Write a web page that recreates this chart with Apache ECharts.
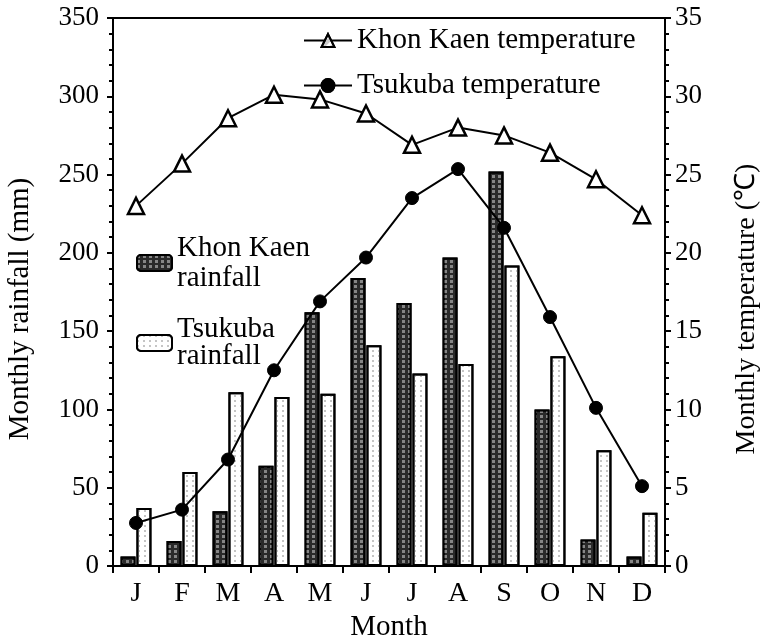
<!DOCTYPE html>
<html>
<head>
<meta charset="utf-8">
<script src="https://cdn.jsdelivr.net/npm/echarts@6/dist/echarts.min.js"></script>
<style>html,body{margin:0;padding:0;background:#fff}#c{width:763px;height:641px}</style>
</head>
<body>
<div id="c"></div>
<script>
const months = ['J','F','M','A','M','J','J','A','S','O','N','D'];
const khonKaenRain = [6,16,35,64,162,184,168,197,252,100,17,6];
const tsukubaRain = [37,60,111,108,110,141,123,129,192,134,74,34];
const khonKaenTemp = [23.0,25.7,28.6,30.1,29.8,28.9,26.9,28.0,27.5,26.4,24.7,22.4];
const tsukubaTemp = [2.75,3.6,6.8,12.5,16.9,19.7,23.5,25.35,21.6,15.9,10.1,5.1];

const FONT = 'Liberation Serif';
const chart = echarts.init(document.getElementById('c'), null, {renderer:'canvas'});
const txt = {fontFamily: FONT, fontSize: 28, color: '#000'};
chart.setOption({
  animation: false,
  aria: {enabled: true, label: {enabled: false}, decal: {show: true}},
  textStyle: {fontFamily: FONT, color: '#000'},
  grid: {left: 113, right: 98, top: 18, bottom: 75, outerBoundsMode: 'none', containLabel: false,
         show: true, borderColor: '#000', borderWidth: 2, backgroundColor: 'transparent'},
  legend: [
    {data: ['Khon Kaen temperature'], left: 298, top: 21, itemWidth: 48, itemHeight: 16, itemGap: 14,
     textStyle: Object.assign({}, txt, {fontSize: 29})},
    {data: ['Tsukuba temperature'], left: 298, top: 66, itemWidth: 48, itemHeight: 16, itemGap: 14,
     textStyle: Object.assign({}, txt, {fontSize: 29})},
    {data: ['Khon Kaen rainfall'], left: 131, top: 228, itemWidth: 35, itemHeight: 16, itemGap: 14,
     formatter: n => n.replace(' rainfall', '\nrainfall'),
     textStyle: Object.assign({}, txt, {fontSize: 29, lineHeight: 30})},
    {data: ['Tsukuba rainfall'], left: 131, top: 310, itemWidth: 35, itemHeight: 16, itemGap: 14,
     formatter: n => n.replace(' rainfall', '\nrainfall'),
     textStyle: Object.assign({}, txt, {fontSize: 29, lineHeight: 27})}
  ],
  xAxis: {
    type: 'category', data: months,
    name: 'Month', nameLocation: 'middle', nameGap: 44,
    nameTextStyle: Object.assign({}, txt, {fontSize: 29}),
    axisLine: {lineStyle: {color: '#000', width: 2}},
    axisTick: {show: true, length: 7, lineStyle: {color: '#000', width: 2}},
    axisLabel: Object.assign({}, txt, {margin: 14}),
    splitLine: {show: false}
  },
  yAxis: [
    {type: 'value', min: 0, max: 350, interval: 50,
     name: 'Monthly rainfall (mm)', nameLocation: 'middle', nameGap: 78,
     nameTextStyle: Object.assign({}, txt, {fontSize: 29, padding: [0, 34, 0, 0]}),
     axisLine: {show: true, lineStyle: {color: '#000', width: 2}},
     axisTick: {show: true, length: 6, lineStyle: {color: '#000', width: 2}},
     minorTick: {show: true, splitNumber: 5, length: 4, lineStyle: {color: '#000', width: 2}},
     axisLabel: Object.assign({}, txt, {fontSize: 27, margin: 14}),
     splitLine: {show: false}},
    {type: 'value', min: 0, max: 35, interval: 5, position: 'right',
     name: 'Monthly temperature (℃)', nameLocation: 'middle', nameGap: 68,
     nameRotate: 90,
     nameTextStyle: Object.assign({}, txt, {fontSize: 28, padding: [0, 34, 0, 0]}),
     axisLine: {show: true, lineStyle: {color: '#000', width: 2}},
     axisTick: {show: true, length: 6, lineStyle: {color: '#000', width: 2}},
     minorTick: {show: true, splitNumber: 5, length: 4, lineStyle: {color: '#000', width: 2}},
     axisLabel: Object.assign({}, txt, {fontSize: 27, margin: 10}),
     splitLine: {show: false}}
  ],
  series: [
    {name: 'Khon Kaen rainfall', type: 'bar', data: khonKaenRain, yAxisIndex: 0,
     barWidth: 15, barGap: '6%',
     itemStyle: {color: '#2a2a2a', borderColor: '#000', borderWidth: 2,
       decal: {symbol: 'rect', symbolSize: 1, color: 'rgba(150,150,150,0.85)', dashArrayX: [3, 3], dashArrayY: [3, 2], rotation: 0}}},
    {name: 'Tsukuba rainfall', type: 'bar', data: tsukubaRain, yAxisIndex: 0,
     barWidth: 15,
     itemStyle: {color: '#fff', borderColor: '#000', borderWidth: 2,
       decal: {symbol: 'rect', symbolSize: 1, color: 'rgba(150,150,150,0.55)', dashArrayX: [2, 4], dashArrayY: [2, 3], rotation: 0}}},
    {name: 'Khon Kaen temperature', type: 'line', data: khonKaenTemp, yAxisIndex: 1,
     symbol: 'triangle', symbolSize: 16, showAllSymbol: true,
     lineStyle: {color: '#000', width: 2},
     itemStyle: {color: '#fff', borderColor: '#000', borderWidth: 2.5}, z: 5},
    {name: 'Tsukuba temperature', type: 'line', data: tsukubaTemp, yAxisIndex: 1,
     symbol: 'circle', symbolSize: 13, showAllSymbol: true,
     lineStyle: {color: '#000', width: 2},
     itemStyle: {color: '#000', borderColor: '#000', borderWidth: 1}, z: 5}
  ]
});
</script>
</body>
</html>
